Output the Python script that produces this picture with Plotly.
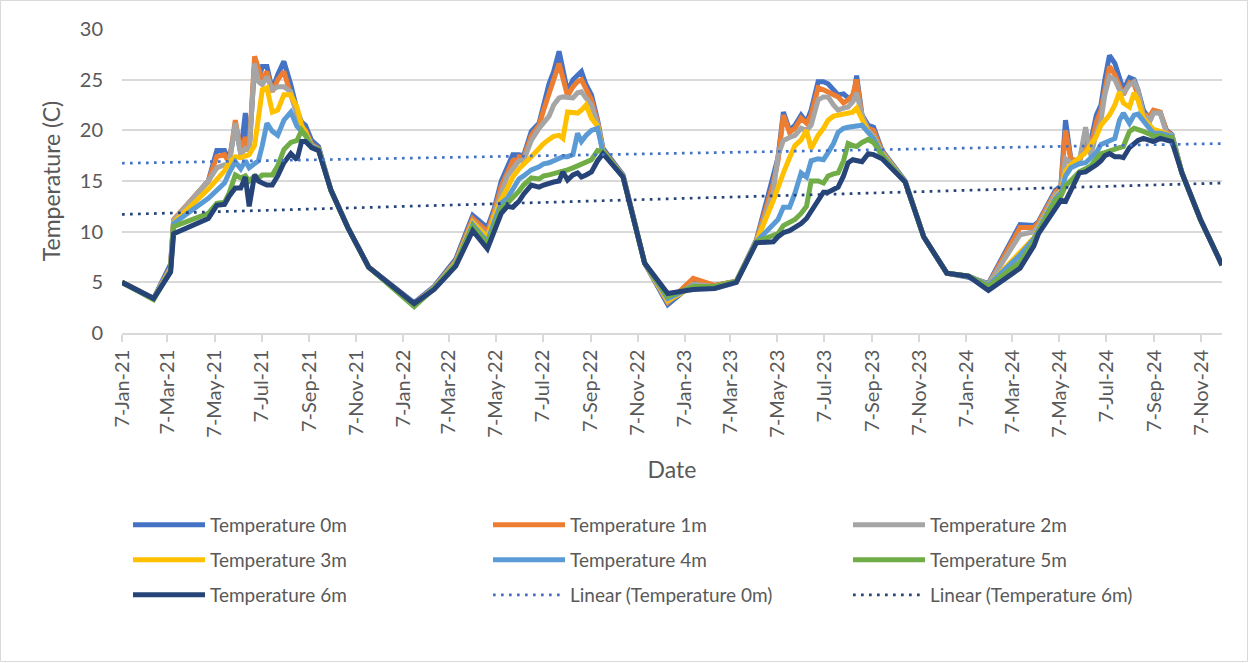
import plotly.graph_objects as go

# ---------------- data ----------------
dates = [
    "2021-01-07", "2021-02-17", "2021-03-11", "2021-03-15", "2021-04-29", "2021-05-10",
    "2021-05-20", "2021-05-26", "2021-06-03", "2021-06-10", "2021-06-16", "2021-06-21",
    "2021-06-28", "2021-07-03", "2021-07-08", "2021-07-14", "2021-07-21", "2021-07-28",
    "2021-08-05", "2021-08-14", "2021-08-22", "2021-08-28", "2021-09-02", "2021-09-10",
    "2021-09-19", "2021-10-05", "2021-10-27", "2021-11-23",
    "2022-01-21", "2022-02-16", "2022-03-16", "2022-04-07", "2022-04-26", "2022-05-05",
    "2022-05-14", "2022-05-22", "2022-05-29", "2022-06-06", "2022-06-12", "2022-06-22",
    "2022-07-02", "2022-07-08", "2022-07-15", "2022-07-21", "2022-07-28", "2022-08-02",
    "2022-08-08", "2022-08-15", "2022-08-21", "2022-08-26", "2022-09-01", "2022-09-08",
    "2022-09-16", "2022-09-23", "2022-10-19", "2022-11-16", "2022-12-16",
    "2023-01-18", "2023-02-15", "2023-03-15", "2023-04-10", "2023-05-02", "2023-05-08",
    "2023-05-15", "2023-05-23", "2023-05-30", "2023-06-07", "2023-06-14", "2023-06-20",
    "2023-06-29", "2023-07-06", "2023-07-12", "2023-07-19", "2023-07-25", "2023-08-01",
    "2023-08-07", "2023-08-13", "2023-08-18", "2023-08-25", "2023-09-02", "2023-09-09",
    "2023-09-20", "2023-10-20", "2023-11-13", "2023-12-13",
    "2024-01-10", "2024-02-05", "2024-03-17", "2024-04-04", "2024-04-10", "2024-05-02",
    "2024-05-09", "2024-05-15", "2024-05-22", "2024-06-02", "2024-06-10", "2024-06-17",
    "2024-06-24", "2024-06-30", "2024-07-05", "2024-07-11", "2024-07-18", "2024-07-24",
    "2024-07-29", "2024-08-06", "2024-08-12", "2024-08-17", "2024-08-24", "2024-09-02",
    "2024-09-06", "2024-09-15", "2024-09-23", "2024-09-30", "2024-10-13", "2024-11-06",
    "2024-12-04",
]

temp_0m = [
    5.0, 3.4, 6.8, 11.1, 15.0, 18.0, 18.0, 16.9, 20.5, 17.8, 21.7, 18.0,
    26.5, 25.0, 26.3, 26.3, 24.0, 25.5, 26.8, 24.5, 22.0, 20.8, 20.5, 19.0,
    18.4, 14.1, 10.4, 6.5,
    3.0, 4.6, 7.3, 11.6, 10.4, 12.3, 15.0, 16.5, 17.6, 17.6, 17.5, 19.9,
    20.7, 22.5, 24.6, 25.8, 27.8, 26.0, 23.8, 25.0, 25.5, 25.8, 24.5, 23.5,
    21.0, 18.2, 15.6, 6.9, 2.8,
    4.9, 4.7, 5.1, 9.2, 15.3, 17.3, 21.8, 20.0, 20.5, 21.5, 20.8, 22.0,
    24.8, 24.8, 24.6, 24.0, 23.5, 23.6, 23.2, 22.8, 25.4, 21.5, 20.5, 20.3,
    18.0, 15.0, 9.5, 5.9,
    5.5, 4.9, 10.7, 10.6, 11.0, 14.1, 14.5, 21.0, 17.1, 17.0, 19.0, 19.0,
    21.5, 22.5, 25.0, 27.4, 26.6, 25.0, 24.0, 25.2, 25.0, 24.0, 22.0, 21.0,
    21.8, 21.7, 20.0, 19.6, 15.8, 11.2, 6.7,
]

temp_1m = [
    5.0, 3.4, 6.5, 11.2, 15.0, 17.4, 17.6, 16.8, 21.0, 18.0, 19.3, 18.2,
    27.3, 26.0, 25.0, 25.8, 23.8, 25.0, 25.8, 23.5, 21.5, 20.3, 20.0, 18.6,
    18.2, 14.1, 10.4, 6.5,
    2.9, 4.5, 7.1, 11.3, 10.0, 12.0, 14.5, 16.0, 17.0, 17.4, 17.3, 19.5,
    20.5, 22.0, 23.8, 25.0, 26.6, 25.0, 23.4, 24.3, 24.8, 25.0, 24.0, 23.0,
    20.8, 18.0, 15.5, 6.9, 3.0,
    5.4, 4.7, 5.1, 9.1, 14.8, 17.0, 21.5, 19.8, 20.2, 21.2, 20.7, 21.5,
    24.2, 24.0, 23.8, 23.5, 23.3, 22.7, 23.0, 23.5, 25.0, 21.3, 20.2, 20.0,
    17.9, 14.9, 9.5, 5.9,
    5.6, 4.8, 10.4, 10.4, 10.9, 13.9, 14.3, 20.0, 17.1, 17.0, 18.5, 18.5,
    20.8, 22.0, 24.0, 26.3, 25.5, 24.5, 23.5, 24.7, 24.5, 23.5, 21.5, 21.5,
    22.0, 21.8, 19.9, 19.5, 15.8, 11.2, 6.7,
]

temp_2m = [
    5.0, 3.4, 6.4, 11.1, 15.0, 16.3, 16.6, 16.6, 20.7, 17.6, 18.2, 18.0,
    26.6, 24.8, 24.5, 25.3, 24.0, 24.3, 24.3, 23.8, 21.5, 20.0, 19.8, 18.5,
    18.1, 14.1, 10.4, 6.5,
    2.8, 4.5, 7.0, 11.0, 9.6, 11.8, 13.8, 15.5, 16.3, 17.0, 17.0, 19.0,
    20.2, 20.8, 21.4, 22.5, 23.2, 23.3, 23.3, 23.2, 23.7, 23.8, 23.2, 22.5,
    20.6, 17.9, 15.5, 6.9, 3.1,
    4.8, 4.6, 5.1, 9.0, 14.0, 17.5, 19.0, 19.3, 19.5, 20.2, 20.0, 20.5,
    23.0, 23.3, 23.3, 22.5, 22.0, 22.2, 22.3, 22.8, 23.7, 21.5, 20.0, 19.5,
    17.8, 14.9, 9.5, 5.9,
    5.6, 4.8, 9.7, 10.0, 10.6, 13.7, 14.0, 17.2, 16.8, 17.0, 20.3, 17.5,
    19.8, 21.0, 23.5, 25.3, 25.0, 24.0, 23.7, 24.5, 24.8, 24.0, 21.5, 21.0,
    21.7, 21.7, 19.7, 19.5, 15.8, 11.2, 6.7,
]

temp_3m = [
    5.0, 3.4, 6.3, 10.9, 14.2, 15.2, 16.0, 16.8, 17.4, 17.3, 17.5, 17.6,
    18.5, 21.0, 24.0, 24.2, 21.8, 22.0, 23.5, 23.5, 22.3, 20.5, 19.8, 18.4,
    18.1, 14.1, 10.4, 6.5,
    2.8, 4.4, 6.9, 10.9, 9.4, 11.5, 13.2, 14.3, 15.4, 16.2, 16.6, 17.4,
    18.2, 18.7, 19.1, 19.4, 19.5, 19.2, 21.8, 21.8, 21.7, 22.0, 22.5, 21.2,
    20.4, 17.9, 15.4, 6.9, 3.2,
    4.6, 4.6, 5.1, 9.0, 13.1, 14.5, 15.8, 17.3, 18.5, 19.05, 20.0, 18.2,
    19.5, 20.2, 21.0, 21.4, 21.5, 21.5, 21.6, 21.8, 22.2, 21.0, 19.8, 19.3,
    17.7, 14.9, 9.5, 5.9,
    5.6, 4.7, 8.0, 9.4, 10.3, 13.4, 13.9, 16.0, 16.6, 17.3, 17.8, 18.6,
    19.4, 20.5, 21.0, 21.5, 22.5, 23.8, 22.7, 22.3, 23.7, 23.0, 21.2, 20.4,
    20.1, 19.9, 19.6, 19.4, 15.8, 11.2, 6.7,
]

temp_4m = [
    5.0, 3.4, 6.2, 10.8, 13.3, 14.1, 14.8, 15.8, 16.9, 16.2, 17.0, 16.3,
    16.8, 17.0, 18.5, 20.7, 19.9, 19.5, 21.0, 21.8, 20.4, 19.8, 19.5, 18.4,
    18.1, 14.1, 10.4, 6.5,
    2.8, 4.4, 6.8, 10.7, 9.0, 11.0, 12.8, 13.3, 14.3, 15.2, 15.5, 16.1,
    16.4, 16.7, 16.8, 17.0, 17.2, 17.4, 17.4, 17.6, 19.7, 18.9, 19.5, 20.0,
    20.2, 17.8, 15.4, 6.9, 3.4,
    4.6, 4.5, 5.1, 9.0, 10.6, 11.2, 12.4, 12.4, 13.8, 15.8, 15.4, 17.0,
    17.2, 17.1, 17.8, 18.7, 19.8, 20.2, 20.3, 20.4, 20.5, 20.5, 19.8, 19.2,
    17.6, 14.9, 9.5, 5.9,
    5.6, 4.7, 7.7, 9.3, 10.2, 13.3, 13.8, 15.5, 16.3, 16.7, 16.8, 17.3,
    17.8, 18.6, 18.8, 19.0, 19.2, 21.0, 21.7, 20.7, 21.5, 21.6, 20.9, 19.9,
    19.7, 19.7, 19.5, 19.4, 15.8, 11.2, 6.7,
]

temp_5m = [
    5.0, 3.3, 6.1, 10.5, 11.8, 12.8, 12.9, 13.8, 15.6, 15.3, 15.5, 15.0,
    15.5, 15.3, 15.6, 15.6, 15.6, 16.5, 18.1, 18.8, 19.0, 20.0, 19.5, 18.3,
    18.1, 14.1, 10.4, 6.5,
    2.6, 4.4, 6.8, 10.5, 8.8, 10.5, 12.3, 12.8, 13.3, 14.0, 14.6, 15.3,
    15.2, 15.5, 15.6, 15.7, 15.8, 15.9, 16.1, 16.3, 16.5, 16.6, 16.8, 17.1,
    18.0, 17.9, 15.4, 6.9, 3.6,
    4.6, 4.6, 5.1, 9.0, 9.6, 9.8, 10.6, 10.9, 11.2, 11.8, 12.5, 15.0,
    15.0, 14.8, 15.5, 15.7, 15.8, 17.0, 18.7, 18.5, 18.4, 18.8, 19.1, 18.8,
    17.5, 14.9, 9.5, 5.9,
    5.6, 4.6, 7.0, 9.0, 10.0, 13.1, 13.5, 14.5, 15.0, 15.9, 16.2, 16.5,
    17.2, 17.7, 17.8, 18.0, 18.1, 18.3, 18.4, 19.9, 20.2, 20.1, 19.9, 19.6,
    19.4, 19.5, 19.3, 19.3, 15.8, 11.2, 6.7,
]

temp_6m = [
    5.0, 3.4, 6.0, 9.8, 11.3, 12.6, 12.7, 13.5, 14.3, 14.3, 15.4, 12.5,
    15.6, 15.0, 14.8, 14.6, 14.6, 15.5, 16.8, 17.7, 17.1, 18.9, 18.9, 18.3,
    18.0, 14.1, 10.4, 6.5,
    2.9, 4.3, 6.6, 10.1, 8.3, 10.0, 11.8, 12.5, 12.4, 13.0, 13.7, 14.6,
    14.4, 14.6, 14.8, 14.9, 15.0, 15.9, 15.1, 15.6, 15.8, 15.4, 15.6, 15.9,
    17.0, 17.7, 15.4, 6.9, 3.9,
    4.3, 4.4, 5.0, 8.9, 9.0, 9.5, 9.9, 10.1, 10.4, 10.8, 11.3, 12.0,
    13.1, 13.9, 13.9, 14.1, 14.4, 15.5, 16.8, 17.1, 17.0, 16.9, 17.7, 17.6,
    17.2, 14.9, 9.5, 5.9,
    5.6, 4.2, 6.4, 8.6, 9.8, 12.3, 13.1, 13.0, 14.0, 15.8, 15.9, 16.2,
    16.6, 17.0, 17.5, 17.7, 17.4, 17.4, 17.3, 18.3, 18.7, 19.0, 19.2, 19.0,
    18.9, 19.2, 19.1, 18.9, 15.8, 11.2, 6.7,
]

# linear trendlines (end values)
trend_dates = ["2021-01-07", "2024-12-04"]
trend_0m = [16.75, 18.7]
trend_6m = [11.7, 14.8]

series_names = ["Temperature 0m", "Temperature 1m", "Temperature 2m", "Temperature 3m",
                "Temperature 4m", "Temperature 5m", "Temperature 6m"]
series_values = [temp_0m, temp_1m, temp_2m, temp_3m, temp_4m, temp_5m, temp_6m]
series_colors = ["#4472C4", "#ED7D31", "#A5A5A5", "#FFC000", "#5B9BD5", "#70AD47", "#264478"]

# x tick positions: 7th of every second month
tick_dates = [f"{y}-{m:02d}-07" for y in range(2021, 2025) for m in (1, 3, 5, 7, 9, 11)]

FONT = "Lato, 'Open Sans', sans-serif"
GREY_TXT = "#595959"
GRID = "#D9D9D9"

W, H = 1249, 663
ML, MR, MT, MB = 122, 27, 29, 330

fig = go.Figure()
legend_of = ["legend", "legend", "legend", "legend2", "legend2", "legend2", "legend3"]
for name, vals, col, lg in zip(series_names, series_values, series_colors, legend_of):
    fig.add_trace(go.Scatter(x=dates, y=vals, name=name, mode="lines",
                             line=dict(color=col, width=5), legend=lg))

fig.add_trace(go.Scatter(x=trend_dates, y=trend_0m, name="Linear (Temperature 0m)", mode="lines",
                         line=dict(color="#4472C4", width=2.7, dash="2.7px,5.3px"), legend="legend3"))
fig.add_trace(go.Scatter(x=trend_dates, y=trend_6m, name="Linear (Temperature 6m)", mode="lines",
                         line=dict(color="#264478", width=2.7, dash="2.7px,5.3px"), legend="legend3"))

legend_common = dict(orientation="h", xref="container", yref="container",
                     x=128 / W, xanchor="left", yanchor="middle",
                     font=dict(family=FONT, size=19, color=GREY_TXT),
                     itemwidth=72, entrywidth=273, entrywidthmode="pixels",
                     bgcolor="rgba(0,0,0,0)", borderwidth=0)

fig.update_layout(
    width=W, height=H,
    margin=dict(l=ML, r=MR, t=MT, b=MB, autoexpand=False),
    paper_bgcolor="white", plot_bgcolor="white",
    font=dict(family=FONT, color=GREY_TXT),
    showlegend=True,
    legend=dict(y=1 - 525 / H, **legend_common),
    legend2=dict(y=1 - 560 / H, **legend_common),
    legend3=dict(y=1 - 595 / H, **legend_common),
    xaxis=dict(
        type="date", range=[dates[0], dates[-1]],
        tickvals=tick_dates, tickformat="%-d-%b-%y", tickangle=-90,
        tickfont=dict(family=FONT, size=20, color=GREY_TXT),
        showgrid=False, zeroline=False,
        showline=True, linecolor=GRID, linewidth=1.5,
        ticks="outside", ticklen=7, tickwidth=1.5, tickcolor=GRID,
        title=dict(text="Date", font=dict(family=FONT, size=23, color=GREY_TXT), standoff=25),
    ),
    yaxis=dict(
        range=[0, 30], dtick=5, tick0=0,
        tickfont=dict(family=FONT, size=20, color=GREY_TXT),
        showgrid=True, gridcolor=GRID, gridwidth=1.5,
        zeroline=False, showline=False, ticks="", ticklabelstandoff=18,
        title=dict(text="Temperature (C)", font=dict(family=FONT, size=23, color=GREY_TXT), standoff=12),
    ),
    shapes=[dict(type="rect", xref="paper", yref="paper",
                 x0=-(ML - 0.5) / (W - ML - MR), x1=1 + (MR - 1.5) / (W - ML - MR),
                 y0=-(MB - 1.5) / (H - MT - MB), y1=1 + (MT - 0.5) / (H - MT - MB),
                 line=dict(color=GRID, width=1), fillcolor="rgba(0,0,0,0)", layer="below")],
)

fig.write_html("out.html", config={"displayModeBar": False},
               post_script="document.body.style.margin='0';")
